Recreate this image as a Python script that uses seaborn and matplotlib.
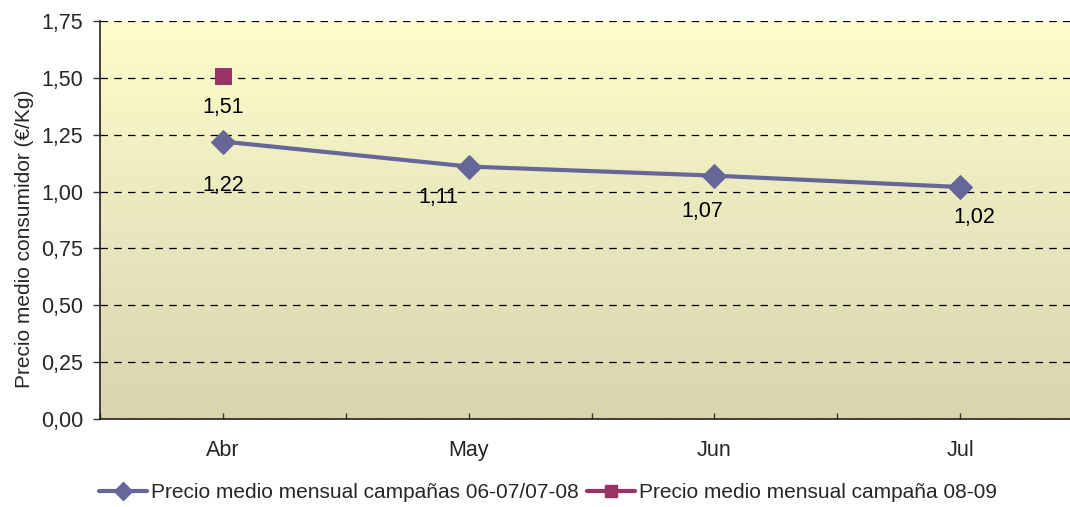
import numpy as np
import pandas as pd
import matplotlib
matplotlib.use("Agg")
import matplotlib.pyplot as plt
from matplotlib.colors import LinearSegmentedColormap
from matplotlib.lines import Line2D
import seaborn as sns

# ---- data ----
months = ["Abr", "May", "Jun", "Jul"]
precio_0608 = [1.22, 1.11, 1.07, 1.02]
meses_0809 = ["Abr"]
precio_0809 = [1.51]
label_0608 = "Precio medio mensual campañas 06-07/07-08"
label_0809 = "Precio medio mensual campaña 08-09"
y_ticks = [0.0, 0.25, 0.5, 0.75, 1.0, 1.25, 1.5, 1.75]
y_label = "Precio medio consumidor (€/Kg)"

# label offsets (points) for annotation styling
offs_0608 = [(0, -32), (-22, -22), (-9, -26), (10, -22)]
offs_0809 = [(0, -23)]

sns.set_style("white")
plt.rcParams["font.family"] = ["Liberation Sans", "DejaVu Sans"]
FS = 15.5
FS_LEG = 15

c_line = "#666699"
c_sq = "#993366"

fig = plt.figure(figsize=(10.7, 5.07), dpi=100)
ax = fig.add_axes([100/1070, 1-419/507, 983/1070, 398/507])

# gradient background
cmap = LinearSegmentedColormap.from_list("bg", ["#D9D6AD", "#E9E8BE", "#FEFECB"])
grad = np.linspace(0, 1, 256).reshape(-1, 1)
ax.imshow(grad, extent=[0, 1, 0, 1], transform=ax.transAxes, aspect="auto",
          cmap=cmap, origin="lower", zorder=0, interpolation="bicubic")

df1 = pd.DataFrame({"mes": months, "precio": precio_0608})
df2 = pd.DataFrame({"mes": meses_0809, "precio": precio_0809})

sns.lineplot(data=df1, x="mes", y="precio", ax=ax, color=c_line, lw=3,
             marker="D", markersize=12, markeredgecolor=c_line, sort=False, zorder=4)
sns.lineplot(data=df2, x="mes", y="precio", ax=ax, color=c_sq, lw=3,
             marker="s", markersize=11, markeredgecolor=c_sq, sort=False, zorder=5)

for i, (m, v) in enumerate(zip(months, precio_0608)):
    ax.annotate(f"{v:.2f}".replace(".", ","), (i, v), xytext=offs_0608[i],
                textcoords="offset points", ha="center", va="center", fontsize=FS,
                color="black", zorder=6)
for i, (m, v) in enumerate(zip(meses_0809, precio_0809)):
    ax.annotate(f"{v:.2f}".replace(".", ","), (months.index(m), v), xytext=offs_0809[i],
                textcoords="offset points", ha="center", va="center", fontsize=FS,
                color="black", zorder=6)

ax.set_xlim(-0.5, 3.5)
ax.set_ylim(0, 1.75)
ax.set_yticks(y_ticks)
ax.set_yticklabels([f"{t:.2f}".replace(".", ",") for t in y_ticks], fontsize=FS)
ax.set_xticks(range(len(months)))
ax.set_xticklabels(months, fontsize=FS)
ax.set_xticks(np.arange(-0.5, len(months), 1.0), minor=True)
ax.tick_params(axis="x", which="both", direction="in", length=4, width=1,
               color="#333333", pad=15, bottom=True)
ax.tick_params(axis="y", direction="out", length=5, width=1, color="#333333",
               pad=7, left=True)
for t in ax.get_yticks():
    ax.axhline(t, color="black", lw=0.9, ls=(0, (6, 5)), zorder=2)

ax.set_xlabel("")
ax.set_ylabel(y_label, fontsize=FS_LEG)
ax.yaxis.set_label_coords(-0.067, 0.452)
for s in ["top", "right"]:
    ax.spines[s].set_visible(False)
for s in ["left", "bottom"]:
    ax.spines[s].set_color("#222222")
    ax.spines[s].set_linewidth(1.2)
    ax.spines[s].set_zorder(7)

handles = [
    Line2D([], [], color=c_line, lw=3, marker="D", markersize=9),
    Line2D([], [], color=c_sq, lw=3, marker="s", markersize=8),
]
fig.legend(handles, [label_0608, label_0809], loc="center", bbox_to_anchor=(548/1070, 1-493/507),
           ncol=2, frameon=False, fontsize=FS_LEG, handlelength=2.3, handletextpad=0.2,
           columnspacing=0.4)
if ax.get_legend() is not None:
    ax.get_legend().remove()

fig.savefig("out.png", dpi=100)
